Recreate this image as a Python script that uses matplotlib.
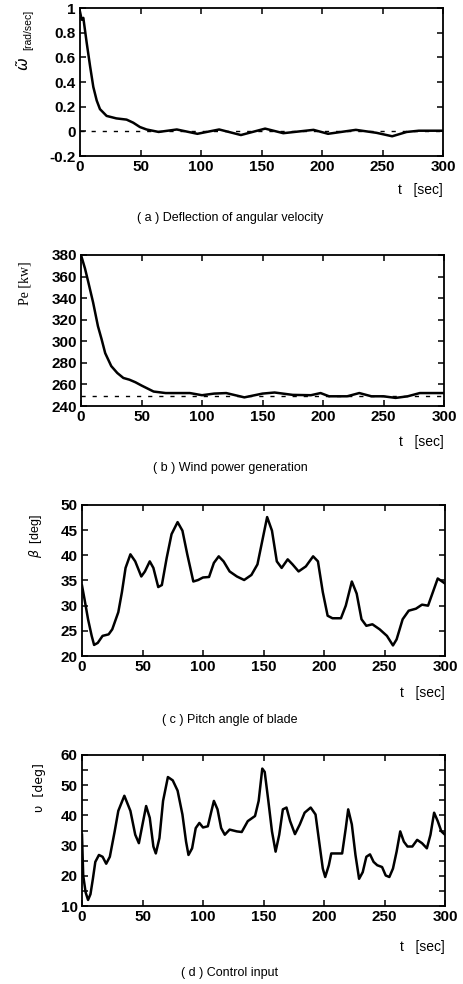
import matplotlib
matplotlib.use("Agg")
from matplotlib import pyplot as plt
from matplotlib.ticker import MultipleLocator, FuncFormatter

plt.rcParams["font.family"] = ["Liberation Sans", "DejaVu Sans"]
plt.rcParams["axes.unicode_minus"] = False

# (a) deflection of angular velocity
t_a = [0, 1.4, 2.75, 5.5, 8.3, 11, 13.8, 16.5, 22, 30, 38.5, 44, 49.5, 55, 65,
       80, 97, 115, 133, 153, 168, 193, 205, 228, 245, 258, 270, 280, 300]
omega = [0.97, 0.905, 0.92, 0.72, 0.53, 0.36, 0.25, 0.18, 0.125, 0.105, 0.095,
         0.07, 0.035, 0.015, -0.005, 0.015, -0.02, 0.015, -0.03, 0.022, -0.015,
         0.012, -0.02, 0.012, -0.012, -0.04, -0.005, 0.005, 0.005]

# (b) wind power generation
t_b = [0, 3.3, 6, 10, 14, 17, 20, 25, 30, 35, 40, 45, 50, 60, 70, 80, 90, 100,
       110, 120, 135, 150, 160, 175, 190, 198, 205, 220, 230, 240, 250, 260,
       270, 280, 300]
power = [380, 367.5, 355, 336, 314, 302, 289, 277, 270.6, 266, 264.4, 262, 259,
         253.4, 252, 252, 252, 250, 251.5, 252, 248, 251.5, 252.5, 250.3, 250,
         252, 249, 249, 252, 249, 249, 247.5, 249, 252, 252]

# (c) pitch angle of blade
t_c = [0, 2, 5, 8, 10, 13, 17, 22, 25, 30, 33, 36, 40, 44, 49, 52, 56, 59, 63,
       66, 70, 74, 79, 83, 87, 92, 96, 100, 105, 109, 113, 117, 122, 128, 134,
       140, 145, 149, 153, 157, 161, 165, 170, 174, 179, 185, 191, 195, 199,
       203, 207, 214, 218, 223, 227, 231, 235, 240, 246, 252, 257, 260, 265,
       270, 276, 281, 286, 290, 294, 300]
beta = [34, 31.4, 27.3, 24, 22.2, 22.6, 24, 24.3, 25.3, 28.7, 32.7, 37.5, 40.2,
        38.8, 35.8, 36.8, 38.8, 37.5, 33.7, 34.1, 39.5, 44.2, 46.6, 44.9, 40.2,
        34.8, 35.1, 35.6, 35.7, 38.5, 39.8, 38.8, 36.8, 35.8, 35.1, 36.1, 38.2,
        42.9, 47.6, 44.9, 38.8, 37.5, 39.2, 38.2, 36.8, 37.8, 39.8, 38.8, 32.7,
        28, 27.5, 27.5, 30, 34.8, 32.4, 27.3, 26, 26.3, 25.3, 24, 22.1, 23.3,
        27.3, 29, 29.4, 30.2, 30, 32.7, 35.4, 34.4]

# (d) control input
t_d = [0, 1, 3, 5, 7, 9, 11, 14, 17, 20, 23, 27, 30, 35, 40, 44, 47, 50, 53,
       56, 59, 61, 64, 67, 71, 75, 79, 83, 86, 88, 91, 94, 97, 100, 104, 107,
       109, 112, 115, 118, 122, 128, 132, 137, 143, 146, 149, 151, 154, 157,
       160, 163, 166, 169, 172, 176, 180, 184, 189, 193, 196, 199, 201, 204,
       206, 211, 215, 218, 220, 223, 226, 229, 232, 235, 238, 241, 244, 248,
       251, 254, 257, 260, 263, 266, 269, 273, 277, 281, 285, 288, 291, 294,
       297, 300]
u = [33.6, 20.1, 14.5, 12, 13.9, 19, 24.6, 26.9, 26.3, 24, 26.3, 34.7, 41.5,
     46.5, 41.5, 33.6, 30.8, 37, 43.1, 39.2, 29.7, 27.4, 32.5, 44.8, 52.7,
     51.6, 48.2, 40.3, 31.3, 26.9, 29.1, 35.8, 37.5, 36, 36.4, 41.5, 44.8, 42,
     35.8, 33.6, 35.3, 34.7, 34.5, 38.1, 39.8, 44.8, 55.5, 54.4, 44.8, 34.7,
     28, 33.6, 42, 42.6, 38.1, 33.8, 37, 40.9, 42.6, 40.3, 31.3, 22.4, 19.6,
     23.5, 27.4, 27.4, 27.4, 35.8, 42, 37, 26.9, 19, 21.2, 26.3, 27.1, 24.6,
     23.5, 22.9, 20.1, 19.6, 22.4, 28, 34.7, 31.3, 29.7, 29.7, 31.9, 30.8,
     29.1, 33.6, 40.9, 38.1, 34.7, 33.6]

W, H = 463, 984


def style_axes(ax, ylim, ymajor, yminor=None):
    ax.set_xlim(0, 300)
    ax.set_ylim(*ylim)
    ax.xaxis.set_major_locator(MultipleLocator(50))
    ax.yaxis.set_major_locator(MultipleLocator(ymajor))
    ax.yaxis.set_major_formatter(FuncFormatter(lambda v, p: "%g" % round(v, 6)))
    if yminor:
        ax.yaxis.set_minor_locator(MultipleLocator(yminor))
    ax.tick_params(which="both", direction="in", top=True, right=True,
                   labelsize=11, pad=3, width=1.1, length=4)
    for lab in ax.get_xticklabels() + ax.get_yticklabels():
        lab.set_fontweight("semibold")
    for sp in ax.spines.values():
        sp.set_linewidth(1.3)


def make_axes(fig, left, top, right, bottom):
    return fig.add_axes([left / W, 1 - bottom / H, (right - left) / W, (bottom - top) / H])


fig = plt.figure(figsize=(W / 100, H / 100), dpi=100)

# (a)
ax = make_axes(fig, 80, 8, 443, 156)
ax.plot([0, 300], [0, 0], color="black", lw=1.0, ls=(0, (3, 5)))
ax.plot(t_a, omega, color="black", lw=1.8)
style_axes(ax, (-0.2, 1.0), 0.2)
fig.text(24 / W, 1 - 64 / H, r"$\tilde{\omega}$", rotation=90,
         ha="center", va="center", fontsize=11)
fig.text(28 / W, 1 - 30 / H, "[rad/sec]", rotation=90,
         ha="center", va="center", fontsize=7.5)
fig.text(443 / W, 1 - 190 / H, "t   [sec]", ha="right", va="center", fontsize=10)
fig.text(230 / W, 1 - 218 / H, "( a ) Deflection of angular velocity",
         ha="center", va="center", fontsize=9)

# (b)
ax = make_axes(fig, 81, 255, 444, 406)
ax.plot([0, 300], [249, 249], color="black", lw=1.0, ls=(0, (3, 5)))
ax.plot(t_b, power, color="black", lw=1.8)
style_axes(ax, (240, 380), 20)
fig.text(25 / W, 1 - 283 / H, "Pe [kw]", rotation=90, ha="center", va="center",
         fontsize=10, family="Liberation Serif")
fig.text(444 / W, 1 - 442 / H, "t   [sec]", ha="right", va="center", fontsize=10)
fig.text(230 / W, 1 - 468 / H, "( b ) Wind power generation",
         ha="center", va="center", fontsize=9)

# (c)
ax = make_axes(fig, 82, 505, 445, 656)
ax.plot(t_c, beta, color="black", lw=1.8)
style_axes(ax, (20, 50), 5)
fig.text(36 / W, 1 - 536 / H, r"$\beta$  [deg]", rotation=90, ha="center",
         va="center", fontsize=9)
fig.text(445 / W, 1 - 693 / H, "t   [sec]", ha="right", va="center", fontsize=10)
fig.text(230 / W, 1 - 720 / H, "( c ) Pitch angle of blade",
         ha="center", va="center", fontsize=9)

# (d)
ax = make_axes(fig, 82, 755, 445, 906)
ax.plot(t_d, u, color="black", lw=1.8)
style_axes(ax, (10, 60), 10, 5)
fig.text(40 / W, 1 - 788 / H, "υ  [deg]", rotation=90, ha="center",
         va="center", fontsize=9, family="DejaVu Sans")
fig.text(445 / W, 1 - 947 / H, "t   [sec]", ha="right", va="center", fontsize=10)
fig.text(230 / W, 1 - 973 / H, "( d ) Control input",
         ha="center", va="center", fontsize=9)

fig.savefig("out.png", dpi=100)
